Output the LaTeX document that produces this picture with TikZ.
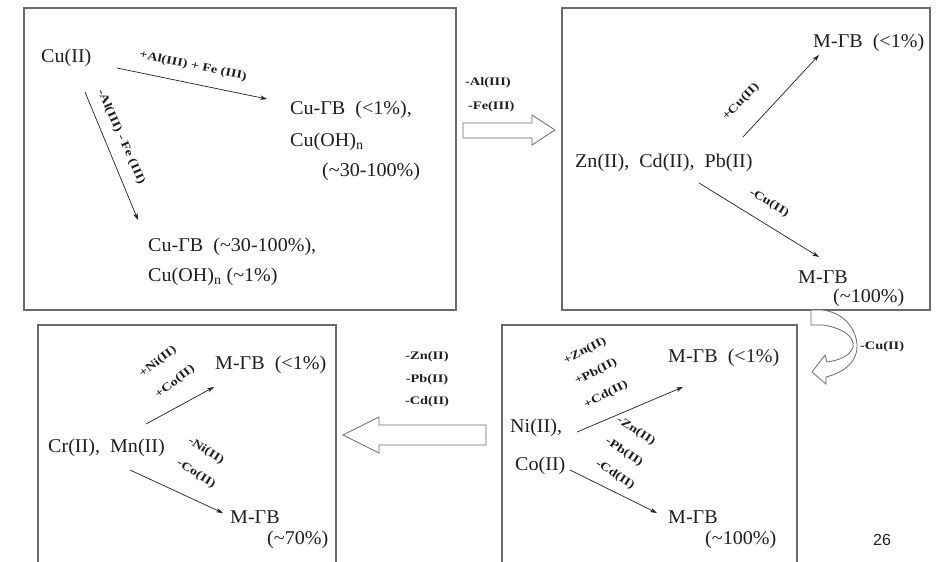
\documentclass[tikz,border=0pt]{standalone}
\usepackage{fontspec}
\setmainfont{Liberation Serif}[FakeStretch=1.03]
\newfontfamily\lbl{Liberation Serif}[FakeStretch=1.25]
\newfontfamily\pagefont{Liberation Sans}
\usetikzlibrary{arrows.meta}
\definecolor{boxgray}{HTML}{6A6A6A}
\definecolor{txt}{HTML}{1E1E1E}
\begin{document}
\begin{tikzpicture}[x=1pt,y=-1pt,
  frame/.style={draw=boxgray,line width=1.3pt},
  txtnode/.style={anchor=west,inner sep=0pt,font=\fontsize{19.5}{21}\selectfont,text=txt},
  lab/.style={inner sep=0pt,font=\lbl\bfseries\fontsize{11.5}{13}\selectfont,text=txt},
  arr/.style={draw=txt,line width=0.7pt,-{Stealth[length=7pt,width=4.5pt]}},
  blockarrow/.style={draw=boxgray,line width=0.8pt,fill=white}]
\useasboundingbox (0,0) rectangle (946,562);

% frames
\draw[frame] (24,8) rectangle (456,310);
\draw[frame] (562,8) rectangle (930,310);
\draw[frame] (38,562) -- (38,325) -- (336,325) -- (336,562);
\draw[frame] (502,562) -- (502,325) -- (797,325) -- (797,562);

% ---------- box 1 ----------
\node[txtnode] (cu) at (41,58) {Cu(II)};
\node[txtnode] (r1a) at (290,110) {Cu-ГВ\ \ (<1\%),};
\node[txtnode] (r1b) at (290,142) {Cu(OH)\textsubscript{n}};
\node[txtnode] (r1c) at (322,172) {(\textasciitilde30-100\%)};
\node[txtnode] (r2a) at (148,247) {Cu-ГВ\ \ (\textasciitilde30-100\%),};
\node[txtnode] (r2b) at (148,277) {Cu(OH)\textsubscript{n} (\textasciitilde1\%)};
\coordinate (a1s) at (117,68);
\coordinate (a1e) at (267,99);
\coordinate (a2s) at (85,92);
\coordinate (a2e) at (138,220);
\draw[arr] (a1s) -- (a1e);
\draw[arr] (a2s) -- (a2e);
\node[lab,rotate=-12] (l1) at (193,66) {+Al(III) + Fe (III)};
\node[lab,rotate=-66] (l2) at (121,137) {-Al(III) - Fe (III)};

% ---------- arrow box1 -> box2 ----------
\node[lab,anchor=west] (t1) at (465,83) {-Al(III)};
\node[lab,anchor=west] (t2) at (468,107) {-Fe(III)};
\draw[blockarrow] (463,123) -- (532,123) -- (532,115) -- (555,130) -- (532,145) -- (532,138) -- (463,138) -- cycle;

% ---------- box 2 ----------
\node[txtnode] (zn) at (575,163) {Zn(II),\ \ Cd(II),\ \ Pb(II)};
\node[txtnode] (m2a) at (813,43) {M-ГВ\ \ (<1\%)};
\node[txtnode] (m2b) at (798,277) {M-ГВ};
\node[txtnode] (m2c) at (833,298) {(\textasciitilde100\%)};
\coordinate (b1s) at (743,137);
\coordinate (b1e) at (819,55);
\coordinate (b2s) at (699,183);
\coordinate (b2e) at (819,257);
\draw[arr] (b1s) -- (b1e);
\draw[arr] (b2s) -- (b2e);
\node[lab,rotate=46] (l3) at (741,102) {+Cu(II)};
\node[lab,rotate=-31] (l4) at (769,203) {-Cu(II)};

% ---------- curved arrow box2 -> box4 ----------
\draw[blockarrow] (811,310) -- (811,325) -- (823,325)
  .. controls (843,328) and (855,337) .. (853,347)
  .. controls (850,356) and (840,360) .. (827,362)
  -- (825,355) -- (812,372) -- (826,384) -- (826,377)
  .. controls (846,372) and (858,360) .. (857,345)
  .. controls (856,327) and (842,312) .. (822,310) -- cycle;
\node[lab,anchor=west] (t3) at (860,347) {-Cu(II)};

% ---------- box 4 ----------
\node[txtnode] (ni) at (510,428) {Ni(II),};
\node[txtnode] (co) at (515,466) {Co(II)};
\node[txtnode] (m4a) at (668,358) {M-ГВ\ \ (<1\%)};
\node[txtnode] (m4b) at (668,517) {M-ГВ};
\node[txtnode] (m4c) at (705,540) {(\textasciitilde100\%)};
\coordinate (d1s) at (577,432);
\coordinate (d1e) at (683,387);
\coordinate (d2s) at (570,470);
\coordinate (d2e) at (657,513);
\draw[arr] (d1s) -- (d1e);
\draw[arr] (d2s) -- (d2e);
\node[lab,rotate=27] (l5) at (585,351) {+Zn(II)};
\node[lab,rotate=27] (l6) at (596,372) {+Pb(II)};
\node[lab,rotate=27] (l7) at (606,395) {+Cd(II)};
\node[lab,rotate=-33] (l8) at (636,431) {-Zn(II)};
\node[lab,rotate=-33] (l9) at (624,452) {-Pb(II)};
\node[lab,rotate=-33] (l10) at (615,475) {-Cd(II)};

% ---------- arrow box4 -> box3 ----------
\node[lab] (t4) at (427,357) {-Zn(II)};
\node[lab] (t5) at (427,380) {-Pb(II)};
\node[lab] (t6) at (427,402) {-Cd(II)};
\draw[blockarrow] (486,425) -- (379,425) -- (379,417) -- (343,435) -- (379,453) -- (379,445) -- (486,445) -- cycle;

% ---------- box 3 ----------
\node[txtnode] (cr) at (48,448) {Cr(II),\ \ Mn(II)};
\node[txtnode] (m3a) at (215,365) {M-ГВ\ \ (<1\%)};
\node[txtnode] (m3b) at (230,517) {M-ГВ};
\node[txtnode] (m3c) at (267,540) {(\textasciitilde70\%)};
\coordinate (c1s) at (146,424);
\coordinate (c1e) at (214,387);
\coordinate (c2s) at (130,470);
\coordinate (c2e) at (223,513);
\draw[arr] (c1s) -- (c1e);
\draw[arr] (c2s) -- (c2e);
\node[lab,rotate=38] (l11) at (158,362) {+Ni(II)};
\node[lab,rotate=38] (l12) at (175,382) {+Co(II)};
\node[lab,rotate=-32] (l13) at (206,451) {-Ni(II)};
\node[lab,rotate=-32] (l14) at (196,474) {-Co(II)};

% page number
\node[inner sep=0pt,font=\pagefont\fontsize{16}{18}\selectfont,text=txt] (pg) at (882,540) {26};
\end{tikzpicture}
\end{document}
